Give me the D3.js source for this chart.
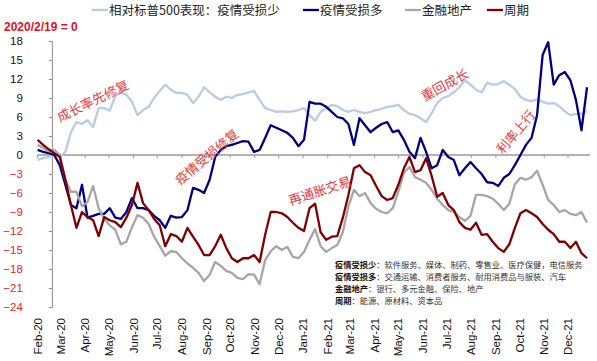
<!DOCTYPE html>
<html>
<head>
<meta charset="utf-8">
<script src="https://cdn.jsdelivr.net/npm/d3@7"></script>
<style>
body { margin: 0; background: #fff; }
text { font-family: "Liberation Sans", Arial, "Noto Sans CJK SC", sans-serif; }
.cn { font-family: "Noto Sans CJK SC", sans-serif; }
</style>
</head>
<body>
<div id="chart"></div>
<script>
// weekly readings, performance relative to S&P 500 (2020/2/19 = 0)
var startDate = new Date(2020, 1, 1);

var lessHurt = [-0.8,-0.5,-0.3,0.0,-0.3,0.5,3.6,5.2,4.9,5.5,4.4,7.4,7.4,7.0,9.3,9.9,9.5,8.4,6.3,7.1,
  7.6,9.0,10.1,11.1,10.3,9.8,9.8,9.5,8.2,9.2,10.7,9.9,9.2,8.7,9.2,9.0,9.5,9.6,9.9,10.1,
  8.7,7.4,7.1,6.8,6.9,6.8,6.9,7.1,7.4,6.3,5.4,6.8,7.4,7.9,7.7,7.1,6.8,7.1,6.8,6.6,
  6.8,7.1,7.3,7.6,7.7,7.9,7.1,6.5,6.3,5.8,5.2,6.6,8.2,9.0,9.3,9.9,10.7,11.8,11.1,10.3,
  9.9,11.4,11.1,11.2,11.7,11.1,10.4,9.2,8.7,8.5,8.8,8.4,8.1,8.2,7.7,6.9,6.3,6.5,6.5,6.9];

var moreHurt = [0.8,0.5,0.3,0.0,-1.6,-4.7,-7.9,-8.4,-4.7,-9.9,-9.6,-9.3,-9.3,-8.4,-9.9,-10.1,-9.0,-6.8,-8.4,-8.4,
  -8.7,-9.6,-10.3,-11.5,-9.6,-9.9,-9.8,-8.7,-5.2,-5.5,-6.0,-3.9,-0.3,0.8,1.4,1.6,1.9,2.2,2.1,0.5,
  0.8,2.7,4.7,4.3,3.9,3.5,2.7,1.4,2.4,8.4,8.1,8.1,7.6,6.8,6.0,5.8,4.9,1.6,5.8,4.7,
  3.6,4.3,4.9,5.2,3.6,3.9,2.4,0.5,-0.5,2.7,0.5,-2.1,-1.6,0.8,-0.3,-0.8,-3.2,-2.1,-1.1,-2.1,
  -3.0,-4.3,-4.4,-4.9,-3.6,-3.0,-1.6,0.0,1.6,2.7,6.3,15.8,17.8,11.1,12.6,13.1,11.8,8.7,3.9,10.7];

var finance = [1.6,1.1,0.6,0.8,0.0,-3.9,-5.8,-5.8,-8.1,-7.4,-4.9,-8.4,-10.1,-11.1,-11.8,-14.1,-13.7,-11.4,-9.5,-9.9,
  -10.9,-12.9,-14.4,-15.9,-15.2,-15.3,-16.3,-17.1,-17.8,-18.6,-19.9,-18.9,-16.9,-17.5,-18.3,-18.6,-19.4,-19.6,-18.8,-18.9,
  -20.4,-16.6,-15.2,-14.4,-15.0,-14.5,-16.1,-16.3,-15.3,-13.4,-11.7,-14.4,-15.3,-14.7,-14.2,-12.2,-8.1,-5.5,-6.5,-6.0,
  -7.6,-8.5,-9.0,-9.2,-8.4,-5.8,-2.8,-1.9,-3.5,-3.9,-4.4,-5.5,-6.9,-7.9,-8.7,-9.0,-9.8,-10.4,-9.6,-6.3,
  -6.3,-6.5,-6.9,-7.7,-8.7,-7.7,-4.6,-3.6,-3.9,-3.5,-2.5,-4.7,-7.1,-7.9,-9.0,-8.7,-9.3,-9.5,-9.0,-10.7];

var cyclical = [2.4,1.6,0.9,0.3,-0.3,-3.9,-7.9,-11.5,-9.0,-9.8,-10.3,-12.8,-9.8,-10.3,-10.6,-11.4,-9.9,-7.9,-4.4,-7.6,
  -8.7,-10.1,-11.1,-14.4,-12.5,-12.8,-13.7,-11.5,-12.9,-14.2,-15.8,-15.8,-14.4,-12.6,-14.7,-16.3,-16.9,-16.3,-16.3,-15.8,
  -16.9,-12.6,-9.0,-9.0,-9.2,-9.8,-10.7,-11.5,-12.0,-8.4,-7.7,-12.2,-13.4,-12.9,-12.8,-9.9,-6.3,-2.1,-1.6,-2.7,
  -3.2,-4.9,-6.5,-7.1,-6.8,-4.7,-2.1,-0.3,-2.7,-2.4,-0.5,-3.3,-6.6,-6.0,-7.9,-8.7,-10.6,-11.5,-11.8,-10.7,
  -12.6,-12.5,-13.7,-14.7,-15.3,-14.1,-11.5,-9.2,-8.7,-9.2,-9.8,-10.9,-11.8,-12.5,-13.7,-13.7,-14.7,-13.7,-15.5,-16.3];

var seriesNames = ["相对标普500表现：疫情受损少", "疫情受损多", "金融地产", "周期"];
var seriesColors = ["#b8cce4", "#000080", "#a6a6a6", "#800000"];
var yTicks = [18, 15, 12, 9, 6, 3, 0, -3, -6, -9, -12, -15, -18, -21, -24];
var monthTicks = d3.timeMonth.range(new Date(2020, 1, 1), new Date(2021, 11, 2));

var notes = [
  {text: "成长率先修复", x: 93, y: 101, a: -26},
  {text: "疫情受损修复", x: 207, y: 157, a: -40},
  {text: "再通胀交易", x: 320, y: 191, a: -18},
  {text: "重回成长", x: 445, y: 85, a: -29},
  {text: "利率上行", x: 516, y: 132, a: -50}
];

var boxLines = [
  ["疫情受损少", "软件服务、媒体、制药、零售业、医疗保健，电信服务"],
  ["疫情受损多", "交通运输、消费者服务、耐用消费品与服装、汽车"],
  ["金融地产", "银行、多元金融、保险、地产"],
  ["周期", "能源、原材料、资本品"]
];

var width = 597, height = 361;

var svg = d3.select("#chart").append("svg")
  .attr("width", width)
  .attr("height", height);

var dates = lessHurt.map(function(d, i) { return d3.timeDay.offset(startDate, 7 * i); });

var xScale = d3.scaleTime().domain([new Date(2020, 1, 1), new Date(2021, 11, 1)]).range([37.6, 568]),
  yScale = d3.scaleLinear().domain([-24, 18]).range([307, 41]);

// y axis at 2020/2/19
var x0 = xScale(new Date(2020, 1, 19));
var yAxis = d3.axisLeft(yScale).tickValues(yTicks).tickSize(3).tickPadding(26);
var gy = svg.append("g")
  .attr("transform", "translate(" + x0 + ",0)")
  .call(yAxis);
gy.select(".domain").attr("stroke", "#8c8c8c");
gy.selectAll(".tick line").attr("stroke", "#8c8c8c");
gy.selectAll(".tick text")
  .style("font-size", "11.5px")
  .attr("fill", function(d) { return d < 0 ? "#e8232a" : "#111"; });

// zero line with month ticks
var xEnd = xScale(dates[dates.length - 1]) + 3;
svg.append("line")
  .attr("x1", xScale(startDate)).attr("x2", xEnd)
  .attr("y1", yScale(0)).attr("y2", yScale(0))
  .attr("stroke", "#9a9a9a").attr("stroke-width", 1.3);
svg.append("g").selectAll("line")
  .data(monthTicks).enter().append("line")
  .attr("x1", function(d) { return xScale(d); })
  .attr("x2", function(d) { return xScale(d); })
  .attr("y1", yScale(0)).attr("y2", yScale(0) + 3)
  .attr("stroke", "#9a9a9a");

// month labels at the bottom
var fmt = d3.timeFormat("%b-%y");
svg.append("g").selectAll("text")
  .data(monthTicks).enter().append("text")
  .attr("transform", function(d) { return "translate(" + xScale(d) + ",318) rotate(-90)"; })
  .attr("text-anchor", "end")
  .attr("dy", "0.35em")
  .style("font-size", "11.5px")
  .attr("fill", "#111")
  .text(fmt);

// lines
var allSeries = [lessHurt, moreHurt, finance, cyclical];
var line = d3.line()
  .x(function(d, i) { return xScale(dates[i]); })
  .y(function(d) { return yScale(d); });

svg.append("g").selectAll("path")
  .data(allSeries).enter().append("path")
  .attr("d", line)
  .attr("fill", "none")
  .attr("stroke", function(d, i) { return seriesColors[i]; })
  .attr("stroke-width", 2.3)
  .attr("stroke-linejoin", "round");

// legend
var legendX = [92, 303, 405, 487];
var lg = svg.append("g").selectAll("g")
  .data(seriesNames).enter().append("g")
  .attr("transform", function(d, i) { return "translate(" + legendX[i] + ",10)"; });
lg.append("line")
  .attr("x1", 0).attr("x2", 16)
  .attr("stroke", function(d, i) { return seriesColors[i]; })
  .attr("stroke-width", 2.3);
lg.append("text")
  .attr("class", "cn")
  .attr("x", 17).attr("dy", "0.36em")
  .style("font-size", "12.5px")
  .attr("fill", "#222")
  .text(function(d) { return d; });

// base date note
svg.append("text")
  .attr("x", 4).attr("y", 31)
  .style("font-size", "12px")
  .style("font-weight", "bold")
  .attr("fill", "#e0101e")
  .text("2020/2/19 = 0");

// phase annotations
svg.append("g").selectAll("text")
  .data(notes).enter().append("text")
  .attr("class", "cn")
  .attr("transform", function(d) { return "translate(" + d.x + "," + d.y + ") rotate(" + d.a + ")"; })
  .attr("text-anchor", "middle")
  .attr("dy", "0.35em")
  .style("font-size", "13px")
  .attr("fill", "#e8383d")
  .text(function(d) { return d.text; });

// sector key
var box = svg.append("g").selectAll("text")
  .data(boxLines).enter().append("text")
  .attr("class", "cn")
  .attr("x", 335)
  .attr("y", function(d, i) { return 268 + i * 12; })
  .style("font-size", "8.25px")
  .attr("fill", "#111");
box.append("tspan")
  .style("font-weight", "bold")
  .text(function(d) { return d[0]; });
box.append("tspan")
  .attr("fill", "#333")
  .text(function(d) { return "：" + d[1]; });
</script>
</body>
</html>
